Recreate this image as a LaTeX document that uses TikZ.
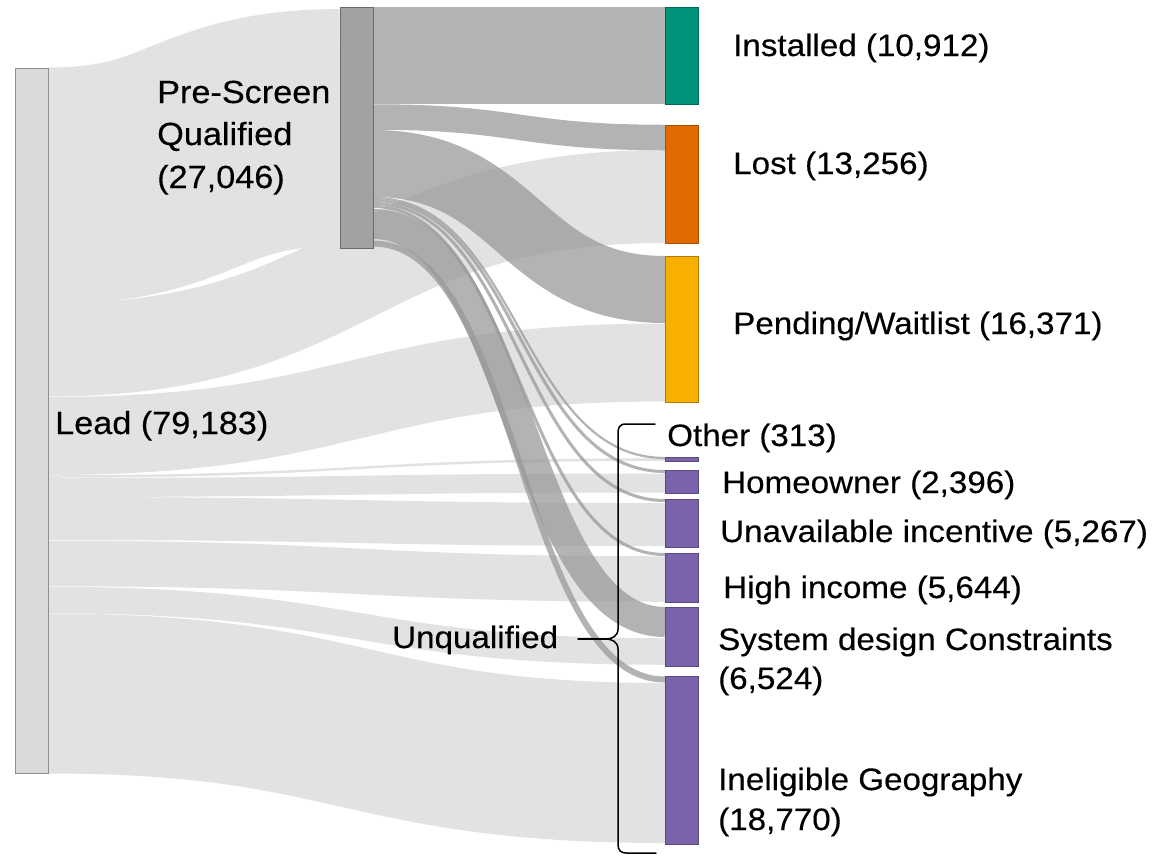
\documentclass[tikz,border=0pt]{standalone}
\usepackage{fontspec}
\setmainfont[FakeStretch=1.07,FakeBold=0.3]{Liberation Sans}
\definecolor{leadflow}{HTML}{E2E2E2}
\definecolor{psflow}{HTML}{999999}
\definecolor{leadfill}{HTML}{DADADA}
\definecolor{leadline}{HTML}{8F8F8F}
\definecolor{psfill}{HTML}{A2A2A2}
\definecolor{psline}{HTML}{6A6A6A}
\definecolor{instc}{HTML}{00947A}
\definecolor{lostc}{HTML}{E06A00}
\definecolor{pendc}{HTML}{F8B000}
\definecolor{purp}{HTML}{7A63AB}
% #1 style, #2 x0, #3 y0 (centre), #4 x1, #5 y1 (centre), #6 width
\newcommand\slink[6]{%
  \pgfmathsetmacro\bandmid{(#2+#4)/2}%
  \draw[#1, line width=#6pt] (#2,#3) .. controls (\bandmid,#3) and (\bandmid,#5) .. (#4,#5);}
\tikzset{
  leadband/.style={draw=leadflow, line cap=butt},
  psband/.style={draw=psflow, draw opacity=0.75, line cap=butt},
  bar/.style={draw, line width=1pt, inner sep=0pt, minimum width=33pt, anchor=north west, outer sep=0pt},
  lbl/.style={inner sep=0pt, anchor=base west, font=\fontsize{31}{39}\selectfont},
  biglbl/.style={inner sep=0pt, anchor=base west, font=\fontsize{32}{42}\selectfont},
  brace/.style={draw=black, line width=1.5pt, line cap=round, line join=round}
}
\begin{document}
\begin{tikzpicture}[x=1pt, y=-1pt]
\useasboundingbox (0,0) rectangle (1170,855);
% Lead flows
\slink{leadband}{48}{186}{340}{127.5}{237}
\slink{leadband}{48}{350}{665}{196.5}{93}
\slink{leadband}{48}{436}{665}{362.5}{78}
\slink{leadband}{48}{476.5}{665}{459.5}{2.5}
\slink{leadband}{48}{487.5}{665}{483}{19}
\slink{leadband}{48}{518.5}{665}{524.5}{43}
\slink{leadband}{48}{563.5}{665}{579}{45.5}
\slink{leadband}{48}{600}{665}{651.5}{26.5}
\slink{leadband}{48}{693.5}{665}{763}{160}
% Pre-screen flows
\slink{psband}{373}{55.5}{665}{55.5}{97}
\slink{psband}{373}{117}{665}{137.5}{25.5}
\slink{psband}{373}{163.5}{665}{289.5}{67}
\slink{psband}{373}{198}{665}{458}{2.2}
\slink{psband}{373}{200.5}{665}{471.5}{3}
\slink{psband}{373}{203.5}{665}{500.5}{3}
\slink{psband}{373}{206.5}{665}{554.5}{3}
\slink{psband}{373}{224}{665}{622}{30}
\slink{psband}{373}{243.5}{665}{679.5}{6}
% Nodes
\node[bar, draw=leadline, fill=leadfill, minimum height=705pt] (lead) at (15,68) {};
\node[bar, draw=psline, fill=psfill, minimum height=241pt] (ps) at (340,7) {};
\node[bar, draw=instc!70!black, fill=instc, minimum height=97pt] (inst) at (665,7) {};
\node[bar, draw=lostc!75!black, fill=lostc, minimum height=118pt] (lost) at (665,125) {};
\node[bar, draw=pendc!70!black, fill=pendc, minimum height=146pt] (pend) at (665,256) {};
\node[bar, draw=purp!75!black, fill=purp, line width=0.6pt, minimum height=4pt] (other) at (665,457) {};
\node[bar, draw=purp!75!black, fill=purp, minimum height=23pt] (home) at (665,470) {};
\node[bar, draw=purp!75!black, fill=purp, minimum height=48pt] (unav) at (665,499) {};
\node[bar, draw=purp!75!black, fill=purp, minimum height=49pt] (high) at (665,553) {};
\node[bar, draw=purp!75!black, fill=purp, minimum height=59pt] (sysd) at (665,607) {};
\node[bar, draw=purp!75!black, fill=purp, minimum height=168pt] (inel) at (665,676) {};
% Labels
\node[biglbl] (psl1) at (157,103) {Pre-Screen};
\node[biglbl] (psl2) at (157,145) {Qualified};
\node[biglbl] (psl3) at (157,188) {(27,046)};
\node[biglbl] (leadl) at (55,434) {Lead (79,183)};
\node[lbl] (instl) at (733,56) {Installed (10,912)};
\node[lbl] (lostl) at (733,174) {Lost (13,256)};
\node[lbl] (pendl) at (733,334) {Pending/Waitlist (16,371)};
\node[lbl] (otherl) at (667,446) {Other (313)};
\node[lbl] (homel) at (722,493) {Homeowner (2,396)};
\node[lbl] (unavl) at (720,542) {Unavailable incentive (5,267)};
\node[lbl] (highl) at (723,598) {High income (5,644)};
\node[lbl] (sysl1) at (718,650) {System design Constraints};
\node[lbl] (sysl2) at (718,689) {(6,524)};
\node[lbl] (inell1) at (718,790) {Ineligible Geography};
\node[lbl] (inell2) at (718,830) {(18,770)};
\node[lbl] (unq) at (392,648) {Unqualified};
% Bracket
\coordinate (btop) at (655,424);
\coordinate (cusp) at (606,639);
\coordinate (bbot) at (656,853);
\coordinate (tick) at (578,639);
\draw[brace] (btop) -- (626,424) .. controls (619,424) and (618,428) .. (618,434)
  -- (618,629) .. controls (618,636) and (612,639) .. (cusp)
  .. controls (612,639) and (618,642) .. (618,649)
  -- (618,844) .. controls (618,850) and (620,853) .. (627,853) -- (bbot);
\draw[brace] (tick) -- (cusp);
\end{tikzpicture}
\end{document}
